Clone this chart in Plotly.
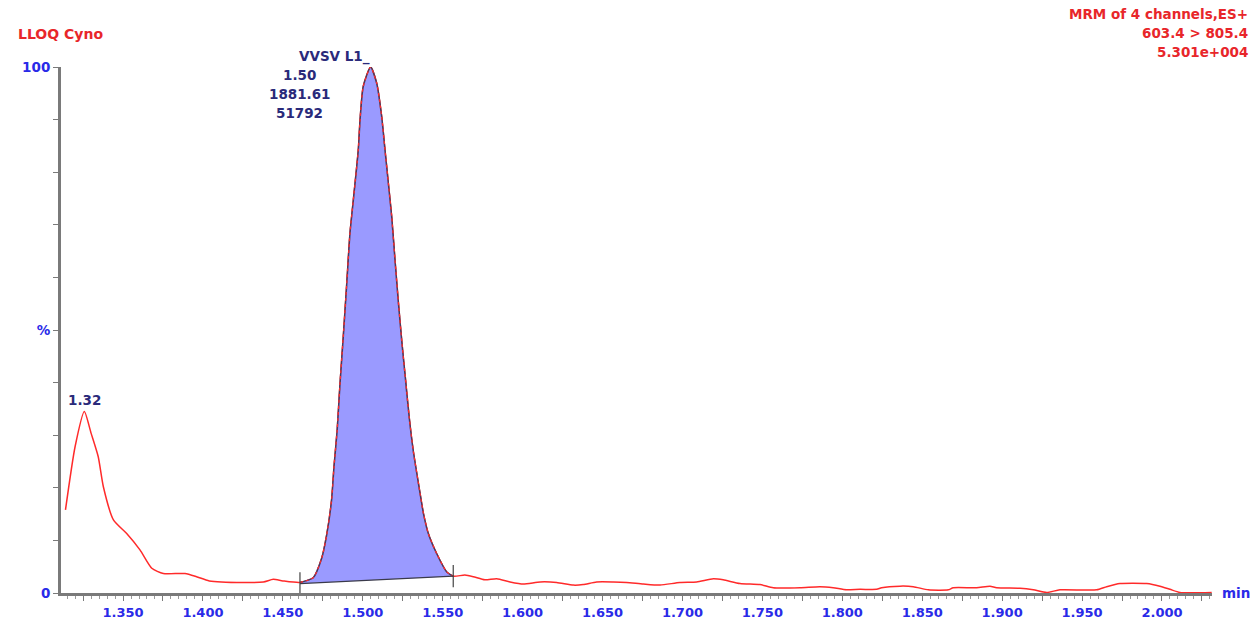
import numpy as np
import plotly.graph_objects as go

# ---- data ----
RT = [1.3140, 1.3200, 1.3258, 1.3300, 1.3345, 1.3377, 1.3440, 1.3523, 1.3606, 1.3680,
      1.3752, 1.3888, 1.3960, 1.4040, 1.4252, 1.4378, 1.4440, 1.4500, 1.4607, 1.4690,
      1.4743, 1.4774, 1.4805, 1.4820, 1.4840, 1.4857, 1.4878, 1.4900, 1.4920, 1.4941,
      1.4972, 1.4983, 1.5003, 1.5049, 1.5087, 1.5118, 1.5139, 1.5160, 1.5181, 1.5201,
      1.5222, 1.5245, 1.5266, 1.5290, 1.5316, 1.5358, 1.5379, 1.5410, 1.5462, 1.5525, 1.5566,
      1.5639, 1.5691, 1.5764, 1.5838, 1.5921, 1.6004, 1.6110, 1.6213, 1.6317, 1.6379,
      1.6463, 1.6567, 1.6650, 1.6755, 1.6860, 1.6984, 1.7089, 1.7193, 1.7255, 1.7360,
      1.7485, 1.7568, 1.7735, 1.7860, 1.7943, 1.8027, 1.8111, 1.8215, 1.8246, 1.8361,
      1.8444, 1.8538, 1.8663, 1.8694, 1.8840, 1.8924, 1.8966, 1.9112, 1.9195, 1.9279,
      1.9362, 1.9591, 1.9654, 1.9737, 1.9904, 1.9987, 2.0050, 2.0112, 2.0311]
INTENSITY = [15.8, 27.8, 34.5, 30.4, 25.9, 20.2, 13.9, 11.3, 8.2, 4.7,
             3.7, 3.7, 3.1, 2.3, 2.0, 2.1, 2.6, 2.3, 2.0, 2.9,
             6.6, 11.0, 17.7, 24.0, 31.0, 39.5, 48.7, 58.9, 68.4, 74.7,
             84.2, 89.9, 96.3, 100.0, 96.9, 90.6, 84.2, 77.9, 71.5, 63.5,
             55.5, 47.5, 41.0, 33.5, 27.0, 19.0, 15.2, 11.3, 7.5, 4.0, 3.2,
             3.4, 3.1, 2.5, 2.7, 2.1, 1.7, 2.1, 2.0, 1.5, 1.6,
             2.1, 2.1, 2.0, 1.7, 1.5, 2.0, 2.1, 2.7, 2.5, 1.8,
             1.6, 1.0, 1.0, 1.2, 1.0, 0.6, 0.7, 0.7, 1.0, 1.3,
             1.2, 0.6, 0.6, 1.0, 1.0, 1.3, 1.0, 0.9, 0.6, 0.1,
             0.6, 0.6, 1.2, 1.8, 1.8, 1.3, 0.7, 0.1, 0.1]

PEAK_START = [1.4607, 1.8]   # integration baseline start (rt, %)
PEAK_END = [1.5566, 3.2]     # integration baseline end (rt, %)
PEAK_APEX = [1.5049, 100.0]
PEAK_LABELS = ["1.50", "1881.61", "51792"]
PEAK_NAME = "VVSV L1_"
SMALL_PEAK = [1.3258, 34.5]
SMALL_PEAK_LABEL = "1.32"

X_TICK_LABELS = ["1.350", "1.400", "1.450", "1.500", "1.550", "1.600", "1.650",
                 "1.700", "1.750", "1.800", "1.850", "1.900", "1.950", "2.000"]
Y_TICK_LABELS = ["0", "", "", "", "", "%", "", "", "", "", "100"]

TITLE_LEFT = "LLOQ Cyno"
TITLE_RIGHT = ["MRM of 4 channels,ES+", "603.4 > 805.4", "5.301e+004"]

X_RANGE = [1.3112, 2.0313]

# ---- styles ----
RED = "#ff2a2a"
TXT_RED = "#e8262a"
BLUE = "#2a2ae8"
NAVY = "#2a2a7a"
FONT = "DejaVu Sans, sans-serif"
FS = 13.5


def f(color, size=FS):
    return dict(family=FONT, size=size, color=color, weight="bold")


rt = np.array(RT)
inten = np.array(INTENSITY)
mask = (rt >= PEAK_START[0]) & (rt <= PEAK_END[0])

fig = go.Figure()

# full trace
fig.add_trace(go.Scatter(x=rt, y=inten, mode="lines", line_shape="spline",
                         line=dict(color=RED, width=1.5, smoothing=0.6),
                         hoverinfo="skip"))

# integrated peak area (fill only)
px_ = list(rt[mask]) + [PEAK_END[0], PEAK_START[0]]
py_ = list(inten[mask]) + [PEAK_END[1], PEAK_START[1]]
fig.add_trace(go.Scatter(x=px_, y=py_, mode="lines", fill="toself",
                         fillcolor="#9a9aff", line=dict(width=0),
                         hoverinfo="skip"))
# peak outline and dashed red overlay
fig.add_trace(go.Scatter(x=rt[mask], y=inten[mask], mode="lines", line_shape="spline",
                         line=dict(color="#4a3a5a", width=1.5, smoothing=0.6),
                         hoverinfo="skip"))
fig.add_trace(go.Scatter(x=rt[mask], y=inten[mask], mode="lines", line_shape="spline",
                         line=dict(color=RED, width=1.2, dash="3px,3px", smoothing=0.6),
                         hoverinfo="skip"))
# baseline
fig.add_trace(go.Scatter(x=[PEAK_START[0], PEAK_END[0]], y=[PEAK_START[1], PEAK_END[1]],
                         mode="lines+markers",
                         line=dict(color="#3a3a4a", width=1.3),
                         marker=dict(symbol="line-ns-open", size=16, color="#444444",
                                     line=dict(color="#444444", width=1.2)),
                         hoverinfo="skip"))

# apex label block
fig.add_annotation(x=PEAK_APEX[0], y=PEAK_APEX[1], text=PEAK_NAME, showarrow=False,
                   xanchor="right", yanchor="middle", xshift=1, yshift=11,
                   font=f(NAVY))
for i, lab in enumerate(PEAK_LABELS):
    fig.add_annotation(x=PEAK_APEX[0], y=PEAK_APEX[1], text=lab, showarrow=False,
                       xanchor="center", yanchor="middle", xshift=-71,
                       yshift=-8 - 19 * i, font=f(NAVY))

fig.add_annotation(x=SMALL_PEAK[0], y=SMALL_PEAK[1], text=SMALL_PEAK_LABEL,
                   showarrow=False, xanchor="center", yanchor="middle", yshift=12,
                   font=f(NAVY))

# titles
fig.add_annotation(x=0, y=1, xref="paper", yref="paper", text=TITLE_LEFT,
                   showarrow=False, xanchor="left", yanchor="middle",
                   xshift=-45, yshift=33, font=f(TXT_RED, 14))
for i, t in enumerate(TITLE_RIGHT):
    fig.add_annotation(x=1.0, y=1.0, xref="paper", yref="paper", text=t,
                       showarrow=False, xanchor="right", yanchor="middle",
                       xshift=38, yshift=53 - 19 * i, font=f(TXT_RED))

# axis unit
fig.add_annotation(x=1.0, y=0.0, xref="paper", yref="paper", text="min",
                   showarrow=False, xanchor="left", yanchor="middle", xshift=8,
                   font=f(BLUE))

tickvals = [round(1.325 + 0.025 * k, 3) for k in range(29)]
lab_map = {float(s): s for s in X_TICK_LABELS}
ticktext = [lab_map.get(v, "") for v in tickvals]

fig.update_layout(
    width=1253, height=620,
    margin=dict(l=61, r=41, t=67, b=27, autoexpand=False),
    paper_bgcolor="white", plot_bgcolor="white",
    showlegend=False,
    font=f(BLUE),
    xaxis=dict(range=X_RANGE, showgrid=False, zeroline=False, automargin=False,
               showline=True, linecolor="#7a7a7a", linewidth=3,
               tickmode="array", tickvals=tickvals, ticktext=ticktext,
               ticks="outside", ticklen=5, tickwidth=1, tickcolor="#7a7a7a",
               ticklabelstandoff=0,
               minor=dict(tick0=1.3, dtick=0.005, ticks="outside", ticklen=3,
                          tickwidth=1, tickcolor="#9a9a9a"),
               tickfont=f(BLUE, 13)),
    yaxis=dict(range=[0, 100], showgrid=False, zeroline=False, automargin=False,
               showline=True, linecolor="#7a7a7a", linewidth=3,
               tickmode="array", tickvals=list(range(0, 101, 10)),
               ticktext=Y_TICK_LABELS,
               ticks="outside", ticklen=5, tickwidth=1, tickcolor="#7a7a7a",
               tickfont=f(BLUE)),
)

fig.write_html("out.html", config={"displayModeBar": False},
               post_script="document.body.style.margin='0';")
